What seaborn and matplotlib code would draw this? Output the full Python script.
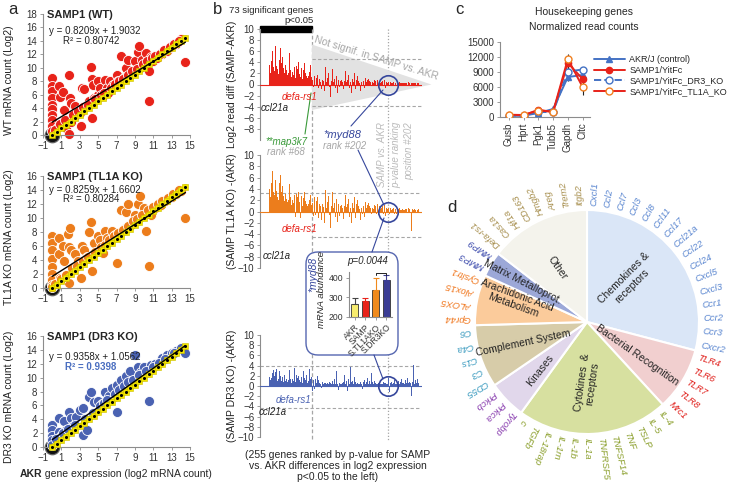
import matplotlib
matplotlib.use("Agg")
import matplotlib.pyplot as plt
import seaborn as sns
import numpy as np
from matplotlib.lines import Line2D
from matplotlib.patches import Polygon, FancyBboxPatch, Rectangle

W, H = 729, 484

# ---------------- panel a: log2 mRNA counts, AKR (x) vs SAMP strains (y) ----------------
wt_akr = [0, 0, 0, 0, 0, 0, 0, 0, 0, 0,
          0.6, 0.7, 0.8, 1.2, 1.3, 1.5, 1.8, 1.8, 1.9, 2.0,
          2.1, 2.5, 2.6, 3.0, 3.1, 3.2, 3.5, 3.8, 4.0, 4.2,
          4.3, 4.3, 4.4, 4.6, 5.0, 5.0, 5.2, 5.5, 5.8, 6.0,
          6.1, 6.3, 6.6, 7.0, 7.2, 7.5, 7.8, 8.0, 8.2, 8.5,
          8.8, 9.0, 9.3, 9.5, 9.6, 9.8, 10.0, 10.2, 10.5, 10.5,
          10.8, 11.0, 11.4, 12.0, 12.5, 13.0, 13.5, 14.0, 14.5,
          0.3, 0.9, 1.4, 2.3, 2.8, 3.4, 3.9, 4.7, 5.3, 5.6,
          6.4, 6.8, 7.3, 7.7, 8.3, 8.7, 9.2, 9.9, 10.3, 10.9,
          11.2, 11.7, 12.2, 12.8, 13.3, 13.8]
wt_y = [8.5, 7.3, 6.5, 5.5, 4.5, 3.8, 3.0, 2.2, 1.4, 0.6,
        1.2, 7.3, 5.7, 6.4, 3.7, 1.0, 8.9, 0.2, 5.5, 4.8,
        2.0, 4.3, 3.0, 3.3, 1.3, 7.0, 6.8, 4.5, 5.0, 10.1,
        8.4, 2.6, 7.4, 5.5, 8.0, 6.0, 7.0, 5.8, 8.2, 7.0,
        6.3, 8.0, 7.5, 9.0, 8.0, 11.8, 8.5, 10.0, 11.2, 9.0,
        9.3, 11.0, 12.3, 13.2, 10.0, 11.2, 10.5, 12.2, 5.1, 9.5,
        11.6, 11.0, 11.4, 12.0, 12.5, 13.3, 13.6, 14.3, 10.9,
        0.8, 1.6, 2.3, 3.0, 3.6, 4.2, 4.5, 5.4, 5.9, 6.3,
        7.0, 7.6, 8.0, 8.4, 9.0, 9.5, 9.8, 10.6, 11.0, 11.4,
        11.8, 12.1, 12.6, 13.1, 13.5, 14.0]

tl_akr = [0, 0, 0, 0, 0, 0, 0, 0, 0,
          0.7, 0.7, 0.9, 1.2, 1.3, 1.7, 1.8, 1.8, 1.9, 2.0,
          2.5, 2.8, 3.1, 3.2, 3.5, 3.8, 4.0, 4.2, 4.3, 4.5,
          5.0, 5.2, 5.5, 5.8, 6.0, 6.5, 6.8, 7.0, 7.5, 7.8,
          8.0, 8.3, 8.6, 9.0, 9.3, 9.6, 10.0, 10.2, 10.5, 10.8,
          11.2, 11.8, 12.3, 13.0, 13.5, 14.0, 14.5,
          0.3, 1.0, 1.5, 2.2, 2.7, 3.3, 3.9, 4.7, 5.3, 5.7,
          6.2, 6.7, 7.2, 7.7, 8.2, 8.8, 9.2, 9.8, 10.4, 11.0,
          11.5, 12.0, 12.6, 13.2, 13.8]
tl_y = [7.5, 6.5, 5.5, 4.2, 3.0, 2.0, 1.2, 0.5, 0.2,
        7.2, 4.8, 1.5, 6.0, 3.8, 7.7, 5.8, 0.7, 8.6, 5.5,
        4.8, 3.8, 1.5, 6.0, 5.5, 4.5, 8.0, 9.4, 2.5, 6.5,
        7.5, 6.8, 5.0, 8.2, 7.2, 8.2, 7.6, 3.6, 11.1, 8.5,
        10.8, 12.0, 9.0, 10.5, 12.0, 13.1, 11.5, 8.2, 3.1, 10.4,
        11.5, 11.8, 12.4, 13.0, 13.4, 13.9, 10.0,
        0.6, 1.3, 1.9, 2.8, 3.2, 3.9, 4.4, 5.2, 5.8, 6.2,
        6.9, 7.4, 7.9, 8.3, 8.9, 9.6, 9.9, 10.5, 11.1, 11.6,
        12.0, 12.4, 12.9, 13.5, 14.0]

dr_akr = [0, 0, 0, 0, 0,
          0.7, 0.7, 1.0, 1.3, 1.5, 1.8, 2.0, 2.3, 2.6, 3.0,
          3.3, 3.4, 3.8, 4.0, 4.2, 4.6, 5.0, 5.4, 5.8, 6.2,
          6.5, 7.0, 7.0, 7.5, 8.0, 8.5, 9.0, 9.3, 9.7, 10.0,
          10.5, 10.8, 11.2, 12.0, 12.5, 13.0, 13.5, 14.0, 14.5,
          0.4, 1.2, 1.7, 2.5, 3.6, 4.4, 5.2, 5.6, 6.0, 6.8,
          7.3, 7.8, 8.3, 8.8, 9.5, 10.2, 11.0, 11.6, 12.3, 13.3]
dr_y = [3.2, 2.4, 1.6, 1.0, 0.3,
        4.2, 2.2, 1.6, 3.8, 2.5, 5.0, 4.2, 3.0, 4.3, 5.3,
        1.8, 5.6, 2.5, 7.2, 7.9, 6.5, 6.6, 6.2, 8.0, 7.3,
        8.5, 5.0, 9.0, 9.6, 10.2, 11.0, 13.2, 11.5, 10.8, 11.6,
        6.6, 11.8, 12.0, 12.8, 13.2, 13.5, 13.9, 14.2, 13.6,
        1.2, 2.0, 2.6, 3.2, 4.1, 4.9, 5.9, 6.3, 6.8, 7.6,
        8.2, 8.8, 9.3, 9.7, 10.4, 10.9, 11.6, 12.1, 12.7, 13.6]

# AKR plotted against itself (identity reference, yellow)
diag_akr = [0.0, 0.5, 1.0, 1.5, 2.0, 2.5, 3.0, 3.5, 4.0, 4.5, 5.0, 5.5, 6.0, 6.5, 7.0,
            7.5, 8.0, 8.5, 9.0, 9.5, 10.0, 10.5, 11.0, 11.5, 12.0, 12.5, 13.0, 13.5, 14.0, 14.5]
zero_x = [0]
zero_y = [0]

wt_fit = (0.8209, 1.9032)
tl_fit = (0.8259, 1.6602)
dr_fit = (0.9358, 1.0562)

# ---------------- panel b: log2 diff for 255 genes ranked by p-value ----------------
diff_wt = [3.6, -5.5, 2.0, 8.5, 4.2, 6.0, 7.8, 3.1, 5.5, 2.4,
           7.0, 4.6, 3.3, 6.2, 2.8, 5.1, 1.9, 4.4, 3.0, 6.6,
           2.2, 3.8, 5.0, 1.6, 2.9, 4.1, 2.0, 3.5, -3.6, 2.6,
           4.8, 1.8, 3.2, 2.1, 5.6, 1.5, 2.7, 3.9, 1.4, 2.3,
           4.3, 1.7, 2.5, 3.1, 1.2, 2.0, 3.4, 1.6, 2.8, 1.1,
           4.0, 1.9, 2.4, 1.3, 2.2, 3.0, 1.0, 1.8, 2.6, 1.4,
           3.8, 1.2, 2.0, 1.6, 2.9, 1.1, 5.4, 1.5, 2.3, 1.0,
           3.5, 3.2, 1.3, 0.8, 1.2, -0.5, 0.6, 1.5, 0.9, -0.3,
           1.1, 0.7, 1.8, 0.5, -0.6, 1.0, 5.0, 0.4, 1.3, -0.8,
           0.9, 2.6, 0.6, 1.4, -1.2, 0.8, 3.2, 0.5, -1.8, 1.1,
           0.7, 2.0, -0.4, 0.9, -2.2, 1.5, 0.6, -1.0, 2.8, 0.4,
           -2.5, 1.0, 0.8, -0.7, 1.6, 0.5, -1.5, 2.2, 0.9, -0.5,
           1.2, 0.6, -1.9, 0.8, 1.9, 0.4, -0.9, 1.4, 0.7, -0.3,
           2.4, 0.5, -1.2, 0.9, 0.6, 1.7, -0.6, 0.8, 0.4, 1.3,
           -1.6, 0.7, 1.0, 0.5, -0.4, 2.0, 0.6, -0.8, 0.9, 0.4,
           1.5, -0.5, 0.7, 1.1, 0.3, -1.1, 0.8, 0.5, 1.8, -0.3,
           0.6, 0.9, -0.7, 0.4, 1.2, 0.5, -0.4, 0.8, 0.3, 1.0,
           -0.9, 0.6, 0.4, 0.7, -0.3, 1.4, 0.5, 0.3, -0.6, 0.8,
           0.4, 0.6, -0.3, 0.5, 0.9, 0.3, -0.5, 0.4, 0.7, 0.3,
           -0.4, 0.5, 0.3, 0.6, -0.3, 0.4, 0.8, 0.3, -0.6, 0.5,
           0.4, 0.3, -0.5, 0.4, 0.2, -0.3, 0.5, 0.3, 0.2, -0.4,
           0.3, 0.5, 0.2, -0.2, 0.4, 0.3, 0.2, -0.3, 0.4, 0.2,
           0.3, -0.2, 0.4, 0.2, 0.3, 0.2, -0.3, 0.3, 0.2, 0.4,
           0.2, -0.2, 0.3, 0.2, 0.3, -0.2, 0.2, 0.4, 0.2, 0.3,
           -0.2, 0.3, 0.2, 0.2, 0.3, -0.2, 0.2, 0.3, 0.2, 0.2,
           0.3, -0.2, 0.2, 0.2, 0.3]
diff_tl1a = [4.0, -7.5, 2.5, 10.0, 5.0, 7.2, 6.5, 3.5, 9.0, 3.0,
             5.5, 4.0, 3.6, 6.0, 2.5, 4.5, 2.0, 5.0, 3.2, 6.5,
             2.0, 3.4, 4.6, 1.5, 2.7, 3.9, 1.8, 3.1, -4.3, 2.2,
             4.2, 1.6, 3.0, 2.0, 4.8, 1.4, 2.5, 3.6, 1.2, 2.1,
             3.8, 1.5, 2.3, 2.9, -1.0, 1.8, 3.1, 1.4, 2.6, 1.0,
             3.5, 1.7, 2.2, -1.2, 2.0, 2.8, 0.9, 1.6, 2.4, 1.2,
             3.4, 1.0, 1.8, 1.4, 2.7, 0.9, 4.6, 1.3, 2.1, 0.8,
             3.0, 2.9, 1.1, 1.5, 2.0, -0.8, 1.2, 2.5, 1.6, -0.6,
             1.8, 1.0, 2.6, 0.8, -1.2, 1.4, 5.5, 0.9, 2.0, -1.5,
             1.3, 3.2, 0.8, 2.0, -2.0, 1.2, 3.8, 0.7, -2.6, 1.6,
             1.0, 2.7, -0.7, 1.4, -2.9, 2.0, 0.9, -1.5, 3.4, 0.6,
             -2.2, 1.5, 1.2, -1.0, 2.3, 0.8, -1.8, 2.9, 1.3, -0.8,
             1.8, 0.9, -2.4, 1.2, 2.5, 0.6, -1.3, 2.0, 1.0, -0.5,
             3.0, 0.8, -1.6, 1.3, 0.9, 2.3, -0.9, 1.2, 0.6, 1.8,
             -2.0, 1.0, 1.5, 0.7, -0.6, 2.6, 0.9, -1.2, 1.3, 0.6,
             2.0, -0.8, 1.0, 1.6, 0.5, -1.5, 1.2, 0.7, 2.4, -0.5,
             0.9, 1.3, -1.0, 0.6, 1.7, 0.7, -0.6, 1.2, 0.5, 1.5,
             -1.3, 0.9, 0.6, 1.0, -0.5, 2.0, 0.7, 0.5, -0.9, 1.2,
             0.6, 0.9, -0.5, 0.7, 1.3, 0.5, -0.7, 0.6, 1.0, 0.4,
             -0.6, 0.7, 0.5, 0.9, -0.4, 0.6, 1.1, 0.4, -0.8, 0.7,
             0.6, 0.5, -0.8, 0.6, 1.2, -0.5, 0.7, 0.4, 0.3, -0.6,
             0.5, 0.7, 0.3, -0.4, 0.6, 0.5, 0.3, -0.5, 0.6, 0.3,
             0.5, -0.4, 0.6, 0.3, 0.5, 0.3, -0.5, 0.5, 0.3, 0.6,
             0.3, -0.4, 0.5, 0.3, 0.5, -0.3, 0.3, 0.6, 0.3, 0.5,
             -0.3, 0.5, -3.5, 0.3, 0.5, -0.3, 0.3, 0.5, 0.3, 0.3,
             0.5, -0.3, 0.3, 0.3, 0.5]
diff_dr3 = [1.8, -4.0, 1.2, 3.5, 1.5, 2.6, 1.0, 3.2, 1.4, 2.0,
            2.8, 1.1, 3.4, 1.6, 0.9, 2.4, 1.3, 3.0, 0.8, 1.9,
            2.5, 1.0, 1.7, 3.3, 0.7, 1.5, 2.2, 0.9, -0.6, 1.4,
            2.6, 0.8, 1.8, 1.2, 3.1, 0.7, 1.4, 2.0, 0.6, 1.3,
            2.4, 0.9, 1.6, 3.6, 0.7, 1.2, 2.1, 0.8, 1.5, 0.6,
            1.9, 1.1, 2.8, 0.7, 1.3, 1.8, 0.6, 1.0, 3.0, 0.8,
            1.6, 0.7, 1.2, 2.2, 0.9, 0.6, 1.5, 1.0, 3.4, 0.7,
            1.4, 0.9, 1.8, -0.9, 0.6, 1.2, 0.4, -0.5, 0.8, 1.3,
            0.5, 0.9, 2.0, 0.4, 1.1, 0.6, 1.6, 0.3, 0.8, -0.4,
            0.7, 1.5, 0.4, 1.0, 0.5, 2.4, 0.6, 0.3, 0.9, 0.5,
            1.2, 0.4, 0.8, -0.6, 0.5, 1.7, 0.3, 0.6, 1.0, 0.4,
            0.7, 1.4, 0.5, 0.3, 3.0, 0.6, 0.4, 0.9, -0.8, 0.5,
            1.1, 0.4, 0.7, 0.3, 1.6, 0.5, 0.8, 0.4, 2.2, 0.6,
            0.3, 0.9, 0.5, -1.0, 0.7, 1.3, 0.4, 0.6, 3.7, 0.5,
            0.8, 0.4, 1.0, 0.3, 0.6, 1.8, 0.4, 0.7, 0.3, 0.9,
            0.5, 1.2, 0.4, 0.6, 0.3, 0.8, 2.0, 0.4, 0.5, -0.5,
            0.7, 0.3, 1.1, 0.5, 0.4, 0.8, 0.3, 1.5, 0.5, 0.4,
            0.6, 1.0, 0.3, 0.5, 2.6, 0.4, 0.7, 0.3, 0.5, 0.9,
            0.4, 0.6, 0.3, 0.8, 0.4, 1.2, 0.5, 0.3, 0.6, 0.4,
            0.9, 0.4, 0.5, 0.3, 0.7, 0.4, 0.6, 0.3, 0.5, 0.8,
            0.4, 0.3, 0.6, 1.5, 0.4, -1.2, 0.5, 0.3, 0.7, 1.8,
            0.4, 0.6, 0.3, 1.2, 0.5, 0.4, 2.0, 0.3, 0.6, 0.4,
            1.0, 0.5, 0.3, 0.8, 0.4, 1.4, 0.3, 0.6, 0.5, 0.9,
            0.4, 0.7, 1.2, 0.3, 0.5, 1.6, 0.4, 0.6, 0.3, 0.8,
            0.5, 1.3, -1.9, 0.4, 0.7, 1.8, 4.2, 0.3, 0.5, 1.2,
            0.4, 0.6, 1.4, 0.3, 0.5]
n_significant = 73
myd88_rank = 202

# inset: myd88 mRNA abundance
inset_groups = ["AKR", "SAMP", "S.TL1AKO", "S.DR3KO"]
inset_vals = [265, 283, 338, 388]
inset_err = [30, 15, 60, 25]

# ---------------- panel c: housekeeping genes ----------------
hk_genes = ["Gusb", "Hprt", "Pgk1", "Tubb5", "Gapdh", "Cltc"]
hk_akr = [250, 250, 800, 1600, 8000, 8400]
hk_samp = [400, 350, 1450, 1000, 10800, 7600]
hk_dr3 = [300, 300, 1000, 1000, 9100, 9500]
hk_tl1a = [450, 400, 1300, 1050, 11600, 6000]
hk_akr_err = [40, 40, 100, 200, 700, 600]
hk_samp_err = [60, 60, 200, 150, 1500, 700]
hk_dr3_err = [40, 40, 150, 150, 900, 600]
hk_tl1a_err = [60, 60, 200, 150, 1000, 1600]

# ---------------- panel d: gene categories ----------------
chemokine_genes = ["Cxcl1", "Ccl2", "Ccl7", "Ccl3", "Ccl8", "Ccl11", "Ccl17", "Ccl21a",
                   "Ccl22", "Ccl24", "Cxcl5", "Cxcl3", "Ccr1", "Ccr2", "Ccr3", "Cxcr2"]
bacterial_genes = ["TLR4", "TLR6", "TLR7", "TLR8", "Mrc1"]
cytokine_genes = ["IL-4", "IL-5", "TSLP", "TNF", "TNFSF14", "TNFRSF5", "IL-1a", "IL-1b",
                  "IL-1rn", "IL-18rap", "TGFb", "c"]
kinase_genes = ["Tyrobp", "Prkca", "Prkcb"]
complement_genes = ["CD55", "C3", "C1s", "C4a", "C6"]
arachidonic_genes = ["Gpr44", "ALOX5", "Alox15", "Cysltr1"]
mmp_genes = ["MMP3", "MMP9"]
other_genes = ["Defa-rs1", "Cas1a", "Hif1a", "CD163", "Hmgb2", "Areg", "Trem2", "Itgb2"]
group_names = ["Chemokines &\nreceptors", "Bacterial Recognition", "Cytokines  &\nreceptors",
               "Kinases", "Complement System", "Arachidonic Acid\nMetabolism",
               "Matrix Metalloprot.", "Other"]

RED = "#e8231a"
ORANGE = "#ec7d1c"
BLUE = "#4a62b2"
NAVY = "#36479c"
YELLOW = "#f4e600"
GRAY = "#a6a6a6"

sns.set_theme(style="ticks")
plt.rcParams['font.family'] = ['Liberation Sans', 'DejaVu Sans']

fig = plt.figure(figsize=(W / 100, H / 100), dpi=100)


def add_ax(x0, y0, x1, y1, **kw):
    return fig.add_axes([x0 / W, 1 - y1 / H, (x1 - x0) / W, (y1 - y0) / H], **kw)


def ftext(x, y, s, **kw):
    return fig.text(x / W, 1 - y / H, s, **kw)


def fline(xs, ys, **kw):
    fig.add_artist(Line2D([x / W for x in xs], [1 - y / H for y in ys],
                          transform=fig.transFigure, **kw))


def style_axis(ax, fs=7):
    ax.tick_params(labelsize=fs, length=2.5, width=0.6, pad=1.5, color='#8c8c8c', labelcolor='#333333')
    for s in ax.spines.values():
        s.set_color('#8c8c8c')
        s.set_linewidth(0.8)


# ======================= panel a =======================
a_panels = [
    ("SAMP1 (WT)", "WT mRNA count (Log2)", wt_akr, wt_y, RED, wt_fit, "R² = 0.80742",
     14, 135, 18, 31, 41),
    ("SAMP1 (TL1A KO)", "TL1A KO mRNA count (Log2)", tl_akr, tl_y, ORANGE, tl_fit, "R² = 0.80284",
     176, 288, 16, 190, 199),
    ("SAMP1 (DR3 KO)", "DR3 KO mRNA count (Log2)", dr_akr, dr_y, BLUE, dr_fit, "R² = 0.9398",
     336, 447, 16, 357, 367),
]
for i, (title, ylab, xs, ys, col, fit, r2, top, bot, ymax, ey, ry) in enumerate(a_panels):
    ax = add_ax(43, top, 190, bot)
    ax.set_facecolor('none')
    sns.scatterplot(x=zero_x, y=zero_y, s=110, color='#111111', edgecolor='#666666',
                    ax=ax, zorder=1, clip_on=False)
    sns.scatterplot(x=xs, y=ys, s=52, color=col, edgecolor='white', linewidth=0.6,
                    ax=ax, zorder=2, clip_on=False)
    sns.lineplot(x=diag_akr, y=diag_akr, color=YELLOW, lw=3.5, sort=False, ax=ax, zorder=3)
    ax.scatter(diag_akr, diag_akr, marker='s', s=13, color=YELLOW, edgecolor='#cbbd00',
               linewidth=0.4, zorder=4, clip_on=False)
    ax.scatter(diag_akr, diag_akr, s=1.5, color='black', zorder=5, clip_on=False)
    xr = np.array([min(xs), max(xs)])
    ax.plot(xr, fit[0] * xr + fit[1], color='black', lw=1.0, zorder=6)
    ax.set_xlim(-1, 15)
    ax.set_ylim(0, ymax)
    ax.set_xticks(range(-1, 16, 2))
    ax.set_yticks(range(0, ymax + 1, 2))
    style_axis(ax)
    sns.despine(ax=ax)
    ax.set_ylabel(ylab, fontsize=7.5, color='#222222')
    ax.yaxis.set_label_coords(-0.2, 0.45)
    ftext(47, top + 1, title, fontsize=8, fontweight='bold', va='center')
    ftext(49, ey, f"y = {fit[0]}x + {fit[1]}", fontsize=7, va='center', color='#222222')
    if i == 2:
        ftext(65, ry, r2, fontsize=7, va='center', color='#4a6ec0', fontweight='bold')
    else:
        ftext(63, ry, r2, fontsize=7, va='center', color='#222222')

t_akr = ftext(20, 474, "AKR", fontsize=7.5, fontweight='bold', va='center')
fig.canvas.draw()
bb = t_akr.get_window_extent()
fig.text(bb.x1 / W, 1 - 474 / H, " gene expression (log2 mRNA count)", fontsize=7.5, va='center')

# ======================= panel b =======================
XL = (-16, 260)
ov = add_ax(260, 20, 422, 445)
ov.set_xlim(*XL)
ov.set_ylim(445, 20)
ov.axis('off')
ov.vlines(n_significant - 0.5, 29, 440, color=GRAY, lw=0.9, ls=(0, (3, 2)))
ov.vlines(myd88_rank, 29, 440, color=GRAY, lw=0.9, ls=(0, (1, 1.5)))
ov.add_patch(Rectangle((XL[0], 26), n_significant - 0.5 - XL[0], 6, color='black', clip_on=False))
ov.text(n_significant + 2, 10, "73 significant genes", ha='right', va='center', fontsize=6.8)
ov.text(n_significant + 2, 20, "p<0.05", ha='right', va='center', fontsize=6.8)

b_panels = [
    (diff_wt, RED, 29, 140, "Log2 read diff (SAMP-AKR)", range(-8, 11, 2),
     [(4.6, n_significant - 0.5), (-3.9, n_significant - 0.5)]),
    (diff_tl1a, ORANGE, 155, 268, "(SAMP TL1A KO) -(AKR)", range(-10, 11, 2),
     [(3.2, XL[0]), (-4.6, n_significant - 0.5)]),
    (diff_dr3, BLUE, 335, 437, "(SAMP DR3 KO) -(AKR)", range(-10, 11, 2),
     [(4.0, XL[0]), (-4.3, XL[0])]),
]
for j, (vals, col, top, bot, ylab, yt, dashes) in enumerate(b_panels):
    ax = add_ax(260, top, 422, bot)
    ax.set_facecolor('none')
    genes = np.arange(len(vals))
    if j == 0:
        ax.add_patch(Polygon([(n_significant - 0.5, 7.2), (n_significant - 0.5, -4.6), (276, 0)],
                             closed=True, color='#e2e2e2', lw=0, zorder=0, clip_on=False))
    sns.barplot(x=genes, y=vals, color=col, width=1.0, saturation=1, linewidth=0,
                ax=ax, zorder=2)
    ax.axhline(0, color=col, lw=0.8, zorder=3)
    for yv, x0 in dashes:
        ax.hlines(yv, x0, XL[1] - 2, color=GRAY, lw=0.8, ls=(0, (3, 2)), zorder=1)
    ax.plot([myd88_rank], [0], 'o', ms=14, mfc='none', mec=NAVY, mew=1.2, zorder=5, clip_on=False)
    ax.set_xlim(*XL)
    ax.set_ylim(-10, 10)
    ax.set_xticks([])
    ax.set_yticks(list(yt))
    ax.set_xlabel("")
    style_axis(ax)
    sns.despine(ax=ax, bottom=True)
    ax.set_ylabel(ylab, fontsize=7.5, color='#222222')
    ax.yaxis.set_label_coords(-0.14, 0.5)

ftext(376, 58, "Not signif. in SAMP vs. AKR", fontsize=7.5, color=GRAY, rotation=-17,
      ha='center', va='center')
ftext(282, 97, "defa-rs1", fontsize=7, color=RED, style='italic', va='center')
ftext(261, 108, "ccl21a", fontsize=7, color='#222222', style='italic', va='center')
ftext(307, 142, "**map3k7", fontsize=7, color='#3a9a3a', style='italic', va='center', ha='right')
ftext(305, 152, "rank #68", fontsize=7, color=GRAY, style='italic', va='center', ha='right')
ftext(323, 135, "*myd88", fontsize=8, color=NAVY, style='italic', va='center')
ftext(323, 146, "rank #202", fontsize=7, color=GRAY, style='italic', va='center')
for xx, s in [(382, "SAMP vs. AKR"), (396, "p-value ranking"), (409, "position #202")]:
    ftext(xx, 122, s, fontsize=7, color='#bbbbbb', style='italic', rotation=90,
          ha='center', va='top')
ftext(282, 229, "defa-rs1", fontsize=7, color=RED, style='italic', va='center')
ftext(263, 256, "ccl21a", fontsize=7, color='#222222', style='italic', va='center')
ftext(276, 400, "defa-rs1", fontsize=7, color=BLUE, style='italic', va='center')
ftext(259, 412, "ccl21a", fontsize=7, color='#222222', style='italic', va='center')
ftext(338, 466, "(255 genes ranked by p-value for SAMP\nvs. AKR differences in log2 expression\np<0.05 to the left)",
      fontsize=7.5, ha='center', va='center', linespacing=1.15)

fline([311, 305], [93, 134], color='#3a9a3a', lw=0.8)
fline([383, 351], [90, 126], color=NAVY, lw=0.8, zorder=2.5)
fline([358, 384], [150, 205], color=NAVY, lw=0.8, zorder=2.5)
fline([384, 372], [218, 252], color=NAVY, lw=0.8, zorder=2.5)
fline([374, 383], [355, 379], color=NAVY, lw=0.8, zorder=2.5)

box = FancyBboxPatch((306 / 100, (H - 355) / 100), 0.92, 1.03,
                     boxstyle="round,pad=0,rounding_size=0.12",
                     transform=fig.dpi_scale_trans, facecolor='white', edgecolor='#5566b0',
                     lw=1.0, zorder=2)
fig.add_artist(box)

axi = add_ax(349, 272, 392, 317)
axi.set_zorder(3)
axi.set_facecolor('none')
inset_cols = ["#f7ec6e", RED, "#f08a1c", "#3b3d94"]
sns.barplot(x=inset_groups, y=inset_vals, hue=inset_groups, palette=inset_cols, legend=False,
            saturation=1, width=0.7, edgecolor='#333333', linewidth=0.6, ax=axi)
for k in range(len(inset_vals)):
    axi.errorbar(k, inset_vals[k], yerr=[[0], [inset_err[k]]], fmt='none',
                 ecolor=["#444444", RED, "#f08a1c", "#3b3d94"][k], elinewidth=0.8, capsize=2, capthick=0.8)
btop = max(inset_vals[2] + inset_err[2], inset_vals[3] + inset_err[3]) + 12
axi.plot([2, 2, 3, 3], [btop - 8, btop, btop, btop - 8], color='#222222', lw=0.7, clip_on=False)
axi.set_ylim(200, 430)
axi.set_yticks([200, 300, 400])
axi.set_xticks(range(len(inset_groups)))
axi.set_xticklabels(inset_groups, rotation=45, ha='right', rotation_mode='anchor')
axi.set_xlabel("")
style_axis(axi, fs=6.2)
sns.despine(ax=axi)
ftext(368, 261, "p=0.0044", fontsize=7, style='italic', ha='center', va='center')
ftext(313, 274, "*myd88", fontsize=7.5, color=NAVY, style='italic', rotation=90, ha='center', va='center')
ftext(322, 290, "mRNA abundance", fontsize=6.8, style='italic', rotation=90, ha='center', va='center')

# ======================= panel c =======================
axc = add_ax(500, 42, 590, 117)
series = [
    (hk_akr, hk_akr_err, "AKR/J (control)", dict(color="#4472c4", marker='^', markersize=4,
                                                 markerfacecolor="#4472c4", markeredgecolor="#4472c4", ls='-')),
    (hk_samp, hk_samp_err, "SAMP1/YitFc", dict(color=RED, marker='o', markersize=4.5,
                                               markerfacecolor=RED, markeredgecolor=RED, ls='-')),
    (hk_dr3, hk_dr3_err, "SAMP1/YitFc_DR3_KO", dict(color="#4472c4", marker='o', markersize=5,
                                                    markerfacecolor='white', markeredgecolor="#4472c4", ls='--')),
    (hk_tl1a, hk_tl1a_err, "SAMP1/YitFc_TL1A_KO", dict(color=RED, marker='o', markersize=5,
                                                       markerfacecolor='white', markeredgecolor="#f08020", ls='-')),
]
for vals, err, lab, kw in series:
    axc.errorbar(hk_genes, vals, yerr=err, fmt='none', ecolor='#222222', elinewidth=0.8, zorder=1)
for vals, err, lab, kw in series:
    sns.lineplot(x=hk_genes, y=vals, sort=False, lw=1.4, label=lab, markeredgewidth=1.0,
                 ax=axc, zorder=3, **kw)
handles, labels = axc.get_legend_handles_labels()
if axc.get_legend() is not None:
    axc.get_legend().remove()
fig.legend(handles, labels, loc='upper left', bbox_to_anchor=(594 / W, 1 - 55 / H), frameon=False,
           fontsize=6.5, handlelength=3.4, labelspacing=0.2, handletextpad=0.5, borderaxespad=0,
           borderpad=0)
axc.set_xlim(-0.6, 5.5)
axc.set_ylim(0, 15000)
axc.set_yticks(range(0, 15001, 3000))
axc.set_xticks(range(len(hk_genes)))
axc.set_xticklabels(hk_genes, rotation=90)
style_axis(axc)
sns.despine(ax=axc)
ftext(584, 12, "Housekeeping genes", fontsize=7.5, ha='center', va='center')
ftext(584, 27, "Normalized read counts", fontsize=7.5, ha='center', va='center')

# ======================= panel d =======================
axd = add_ax(447, 182, 727, 462)
gene_groups = [chemokine_genes, bacterial_genes, cytokine_genes, kinase_genes,
               complement_genes, arachidonic_genes, mmp_genes, other_genes]
counts = [len(g) for g in gene_groups]
slice_cols = ["#dae6f7", "#f1cfcf", "#d7e0a0", "#e1d7eb", "#d7cca9", "#fbcb9b", "#9ca8d8", "#f4f3ec"]
label_cols = ["#5a86d0", "#e0201c", "#8ca02e", "#8a3fb0", "#3d9cc0", "#f07820", "#4452b0", "#a89050"]
axd.pie(counts, colors=slice_cols, startangle=90, counterclock=False, radius=1,
        wedgeprops=dict(edgecolor='white', linewidth=1.5))
N = sum(counts)
k = 0
for g, genes_in in enumerate(gene_groups):
    for name in genes_in:
        ang = 90 - (k + 0.5) * 360 / N
        r = 1.04
        axd.text(r * np.cos(np.radians(ang)), r * np.sin(np.radians(ang)), name,
                 rotation=ang, rotation_mode='anchor', ha='left', va='center',
                 fontsize=6.8, style='italic', color=label_cols[g])
        k += 1
grp_pos = [(0.366, 0.357, 45), (0.446, -0.295, -35), (0.0, -0.545, 82), (-0.42, -0.43, 52),
           (-0.571, -0.19, 12), (-0.643, 0.196, -20), (-0.58, 0.357, -27), (-0.268, 0.482, -55)]
for name, (gx, gy, rot) in zip(group_names, grp_pos):
    axd.text(gx, gy, name, rotation=rot, ha='center', va='center', fontsize=7.5,
             color='#222222', linespacing=1.1, rotation_mode='anchor')

# panel letters
ftext(8, 10, "a", fontsize=12, va='center')
ftext(213, 10, "b", fontsize=12, va='center')
ftext(455, 9, "c", fontsize=12, va='center')
ftext(447, 207, "d", fontsize=12, va='center')

fig.savefig("out.png", dpi=100)
